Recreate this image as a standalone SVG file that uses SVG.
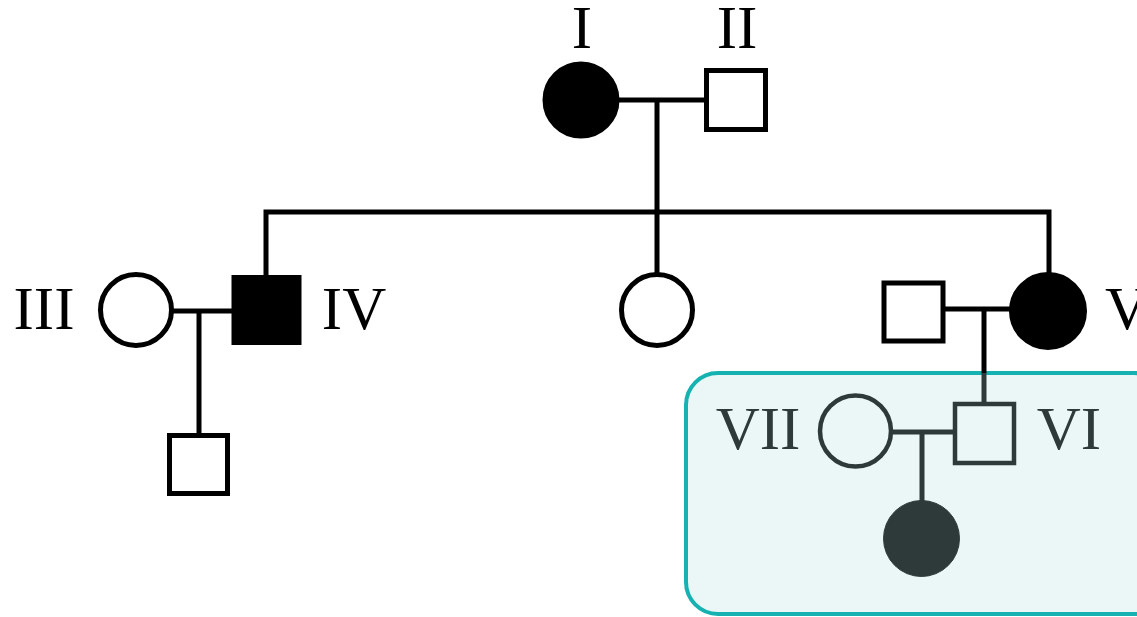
<svg xmlns="http://www.w3.org/2000/svg" width="1137" height="617" viewBox="0 0 1137 617">
<style>
.lbl{font-family:"Liberation Serif","Times New Roman",serif;font-size:61px;fill:#000}
.lblg{font-family:"Liberation Serif","Times New Roman",serif;font-size:61px;fill:#2e3939}
.ln{stroke:#000;stroke-width:5;fill:none}
.lng{stroke:#2e3939;stroke-width:5;fill:none}
.open{fill:#fff;stroke:#000;stroke-width:5}
.openg{fill:none;stroke:#2e3939;stroke-width:4.5}
.fill{fill:#000;stroke:#000;stroke-width:5}
.fillg{fill:#2e3939;stroke:#2e3939;stroke-width:1}
</style>
<rect x="0" y="0" width="1137" height="617" fill="#fff"/>
<g id="highlight">
<rect x="686" y="373" width="480" height="241" rx="32" ry="32" fill="#ebf7f7" stroke="#16b2b2" stroke-width="4"/>
</g>
<g id="connectors">
<line class="ln" x1="618" y1="100" x2="706" y2="100"/>
<line class="ln" x1="657" y1="100" x2="657" y2="274"/>
<polyline class="ln" points="266,277 266,212 1049,212 1049,273"/>
<line class="ln" x1="173" y1="311" x2="232" y2="311"/>
<line class="ln" x1="199" y1="311" x2="199" y2="435"/>
<line class="ln" x1="943" y1="309" x2="1010" y2="309"/>
<line class="ln" x1="984" y1="309" x2="984" y2="373"/>
<line class="lng" x1="984" y1="373" x2="984" y2="404"/>
<line class="lng" x1="893" y1="432" x2="955" y2="432"/>
<line class="lng" x1="922" y1="432" x2="922" y2="501"/>
</g>
<g id="node-I">
<circle class="fill" cx="581" cy="100" r="36"/>
<text class="lbl" x="582" y="48" text-anchor="middle">I</text>
</g>
<g id="node-II">
<rect class="open" x="706.5" y="70.5" width="59" height="59"/>
<text class="lbl" x="737" y="48" text-anchor="middle">II</text>
</g>
<g id="node-III">
<circle class="open" cx="136" cy="310" r="35.5"/>
<text class="lbl" x="44" y="329" text-anchor="middle">III</text>
</g>
<g id="node-IV">
<rect class="fill" x="234" y="277.5" width="65" height="65"/>
<text class="lbl" x="354" y="329" text-anchor="middle">IV</text>
</g>
<g id="node-child-IV">
<rect class="open" x="169.5" y="435.5" width="58" height="58"/>
</g>
<g id="node-middle">
<circle class="open" cx="657" cy="310" r="35.5"/>
</g>
<g id="node-V-spouse">
<rect class="open" x="884" y="283" width="59" height="58"/>
</g>
<g id="node-V">
<circle class="fill" cx="1048" cy="311" r="36.5"/>
<text class="lbl" x="1105" y="329">V</text>
</g>
<g id="node-VII">
<circle class="openg" cx="855.5" cy="431" r="35.5"/>
<text class="lblg" x="758" y="449" text-anchor="middle">VII</text>
</g>
<g id="node-VI">
<rect class="openg" x="955" y="404" width="59" height="59"/>
<text class="lblg" x="1069" y="449" text-anchor="middle">VI</text>
</g>
<g id="node-VIII">
<circle class="fillg" cx="921.5" cy="538.5" r="38"/>
</g>
</svg>
